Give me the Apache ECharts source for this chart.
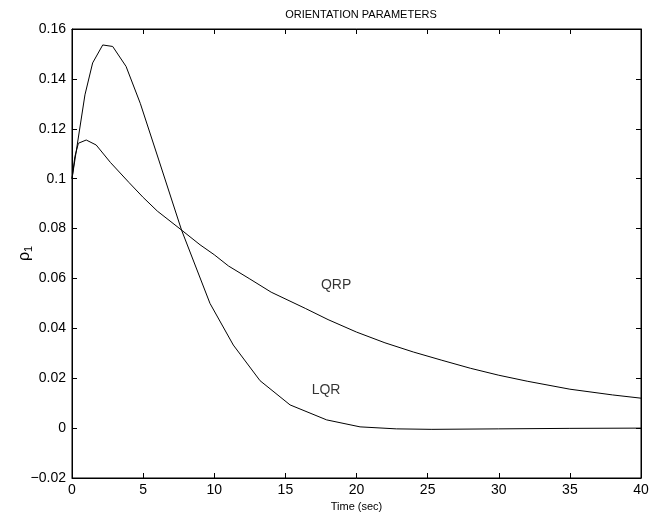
<!DOCTYPE html>
<html>
<head>
<meta charset="utf-8">
<script src="https://cdn.jsdelivr.net/npm/echarts@6/dist/echarts.min.js"></script>
<style>
  html, body { margin: 0; padding: 0; background: #fff; }
  #chart { width: 652px; height: 522px; }
</style>
</head>
<body>
<div id="chart"></div>
<script>
// Orientation parameter rho_1 versus time for the two controllers
const lqrTime = [0, 0.91, 1.45, 2.16, 2.86, 3.8, 4.8, 6.1, 7.7, 9.7, 11.34, 13.22, 15.33, 17.9, 20.25, 22.8, 25.3, 30, 35, 40];
const lqrRho  = [0.1, 0.1336, 0.1464, 0.1536, 0.1530, 0.1450, 0.1302, 0.1075, 0.0794, 0.0500, 0.0333, 0.0190, 0.0093, 0.0033, 0.0005, -0.0003, -0.0005, -0.0003, -0.0001, 0.0];

const qrpTime = [0, 0.2, 0.45, 1.0, 1.7, 2.7, 4, 5, 6, 7.7, 9, 10, 11, 12.5, 14, 16.4, 18, 20, 22, 24, 26, 28, 30, 32, 35, 38, 40];
const qrpRho  = [0.1, 0.1088, 0.1142, 0.1155, 0.1135, 0.1065, 0.0985, 0.0925, 0.0870, 0.0794, 0.0735, 0.0695, 0.0650, 0.0598, 0.0545, 0.0480, 0.0435, 0.0385, 0.0342, 0.0305, 0.0272, 0.0240, 0.0212, 0.0188, 0.0156, 0.0133, 0.0120];

// Curve annotations: [time, rho, text]
const curveLabels = [
  [17.5, 0.0574, 'QRP'],
  [16.85, 0.0153, 'LQR']
];

const titleText = 'ORIENTATION PARAMETERS';
const xName = 'Time (sec)';

const FONT = '"Liberation Sans", Arial, Helvetica, sans-serif';

function pairs(xs, ys) { return xs.map((x, i) => [x, ys[i]]); }

function fmtY(v) {
  let s = (Math.round(v * 100) / 100).toFixed(2).replace(/0+$/, '').replace(/\.$/, '');
  if (s === '-0') s = '0';
  return s.replace('-', '\u2212');
}

const tickStyle = { inside: true, length: 5, lineStyle: { color: '#000', width: 1 } };
const lineStyleAxis = { show: true, onZero: false, lineStyle: { color: '#000', width: 1 } };

const chart = echarts.init(document.getElementById('chart'), null, { renderer: 'canvas' });

chart.setOption({
  animation: false,
  backgroundColor: '#fff',
  title: {
    text: titleText,
    left: 356, top: 4, textAlign: 'center',
    textStyle: { fontFamily: FONT, fontSize: 11, fontWeight: 'normal', color: '#000' }
  },
  grid: {
    left: 72, right: 11, top: 29, bottom: 44,
    containLabel: false, outerBoundsMode: 'none',
    show: true, borderColor: '#000', borderWidth: 1, backgroundColor: 'transparent'
  },
  xAxis: [
    {
      type: 'value', min: 0, max: 40, interval: 5, position: 'bottom',
      name: xName, nameLocation: 'middle', nameGap: 23, nameMoveOverlap: false,
      nameTextStyle: { fontFamily: FONT, fontSize: 11, color: '#000' },
      axisLine: lineStyleAxis, axisTick: tickStyle, splitLine: { show: false },
      axisLabel: { fontFamily: FONT, fontSize: 14, color: '#000', margin: 5 }
    },
    {
      type: 'value', min: 0, max: 40, interval: 5, position: 'top',
      axisLine: lineStyleAxis, axisTick: tickStyle, splitLine: { show: false },
      axisLabel: { show: false }
    }
  ],
  yAxis: [
    {
      type: 'value', min: -0.02, max: 0.16, interval: 0.02, position: 'left',
      name: '{r|\u03c1}{s|1}', nameLocation: 'middle', nameGap: 38, nameRotate: 90, nameMoveOverlap: false,
      nameTextStyle: {
        rich: {
          r: { fontFamily: FONT, fontSize: 16, color: '#000' },
          s: { fontFamily: FONT, fontSize: 11, color: '#000', padding: [7, 0, 0, 0] }
        }
      },
      axisLine: lineStyleAxis, axisTick: tickStyle, splitLine: { show: false },
      axisLabel: { fontFamily: FONT, fontSize: 14, color: '#000', margin: 6, formatter: fmtY }
    },
    {
      type: 'value', min: -0.02, max: 0.16, interval: 0.02, position: 'right',
      axisLine: lineStyleAxis, axisTick: tickStyle, splitLine: { show: false },
      axisLabel: { show: false }
    }
  ],
  series: [
    {
      name: 'LQR', type: 'line', data: pairs(lqrTime, lqrRho),
      showSymbol: false, smooth: false,
      lineStyle: { color: '#000', width: 1 }
    },
    {
      name: 'QRP', type: 'line', data: pairs(qrpTime, qrpRho),
      showSymbol: false, smooth: false,
      lineStyle: { color: '#000', width: 1 }
    },
    {
      name: 'labels', type: 'scatter', symbolSize: 0,
      data: curveLabels.map(d => ({ value: [d[0], d[1]], label: { formatter: d[2] } })),
      label: {
        show: true, position: 'right', distance: 0,
        fontFamily: FONT, fontSize: 14, color: '#000'
      },
      silent: true
    }
  ]
});
</script>
</body>
</html>
